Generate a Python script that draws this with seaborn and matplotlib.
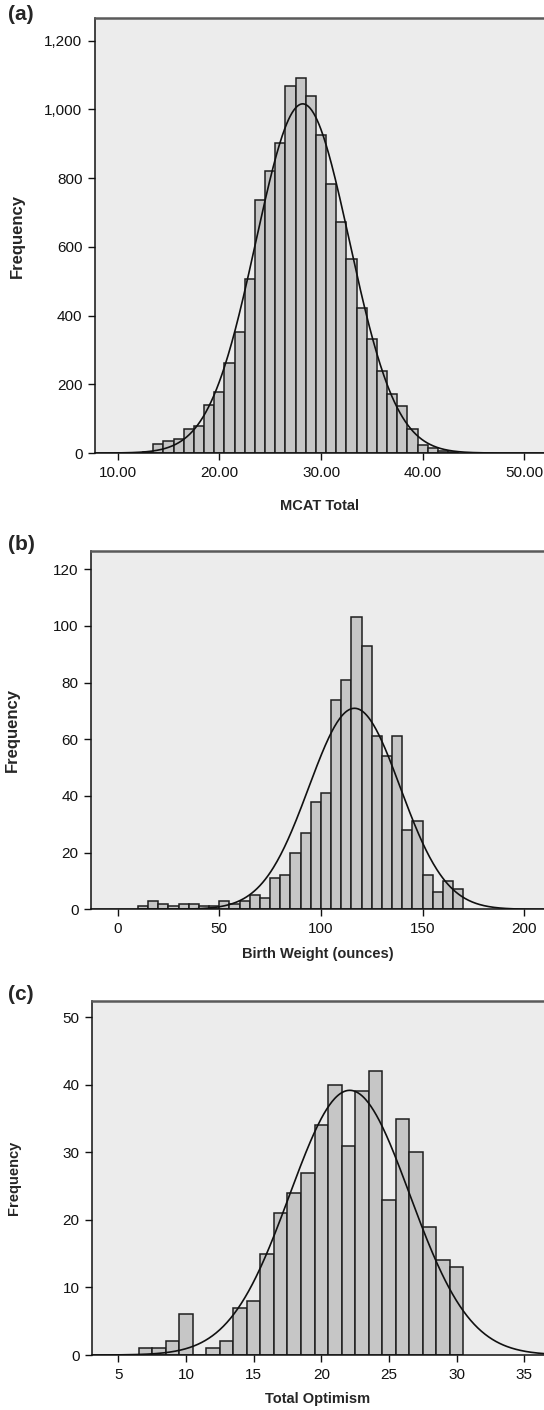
import numpy as np
import matplotlib
matplotlib.use("Agg")
import matplotlib.pyplot as plt
import seaborn as sns
from matplotlib.ticker import FuncFormatter

# (a) MCAT Total: bins of width 1, centred on whole scores
mcat_scores = [12, 13, 14, 15, 16, 17, 18, 19, 20, 21, 22, 23, 24, 25, 26, 27,
               28, 29, 30, 31, 32, 33, 34, 35, 36, 37, 38, 39, 40, 41, 42, 43]
mcat_counts = [1, 4, 26, 36, 40, 71, 78, 139, 177, 261, 351, 505, 736, 822, 903, 1069,
               1092, 1039, 925, 784, 673, 564, 423, 333, 239, 172, 137, 70, 22, 15, 7, 2]
mcat_mean, mcat_sd = 28.2, 4.6

# (b) Birth weight in ounces: bins of width 5 from 10 to 170
bw_centers = [12.5, 17.5, 22.5, 27.5, 32.5, 37.5, 42.5, 47.5, 52.5, 57.5, 62.5,
              67.5, 72.5, 77.5, 82.5, 87.5, 92.5, 97.5, 102.5, 107.5, 112.5, 117.5,
              122.5, 127.5, 132.5, 137.5, 142.5, 147.5, 152.5, 157.5, 162.5, 167.5]
bw_counts = [1, 3, 2, 1, 2, 2, 1, 1, 3, 2, 3, 5, 4, 11, 12, 20, 27, 38, 41, 74, 81,
             103, 93, 61, 54, 61, 28, 31, 12, 6, 10, 7]
bw_mean, bw_sd = 116.5, 22.5

# (c) Total Optimism: bins of width 1
opt_scores = [7, 8, 9, 10, 11, 12, 13, 14, 15, 16, 17, 18, 19, 20, 21, 22, 23, 24,
              25, 26, 27, 28, 29, 30]
opt_counts = [1, 1, 2, 6, 0, 1, 2, 7, 8, 15, 21, 24, 27, 34, 40, 31, 39, 42, 23, 35,
              30, 19, 14, 13]
opt_mean, opt_sd = 22.1, 4.43

BG = "#ECECEC"
FILL = "#C6C6C6"
EDGE = "#1E1E1E"

sns.set_style("ticks")
plt.rcParams["font.family"] = ["Liberation Sans", "DejaVu Sans"]

fig = plt.figure(figsize=(5.44, 14.10), dpi=100)


def draw_panel(rect, centers, counts, width, mean, sd, xlim, ylim, xticks, yticks,
               xfmt, yfmt, xlabel, letter, letter_y, ylabel_size=12):
    ax = fig.add_axes(rect)
    ax.set_facecolor(BG)
    sns.histplot(x=centers, weights=counts, binwidth=width,
                 binrange=(centers[0] - width / 2, centers[-1] + width / 2),
                 color=FILL, edgecolor=EDGE, linewidth=1.1, alpha=1, ax=ax)
    n = sum(counts)
    xs = np.linspace(xlim[0], xlim[1], 500)
    ys = n * width * np.exp(-0.5 * ((xs - mean) / sd) ** 2) / (sd * np.sqrt(2 * np.pi))
    ax.plot(xs, ys, color="#111111", lw=1.2)

    ax.set_xlim(*xlim)
    ax.set_ylim(*ylim)
    ax.set_xticks(xticks)
    ax.set_yticks(yticks)
    ax.xaxis.set_major_formatter(FuncFormatter(xfmt))
    ax.yaxis.set_major_formatter(FuncFormatter(yfmt))
    ax.tick_params(axis="both", direction="out", length=5, width=1, colors="#111111",
                   labelsize=11, pad=4)

    for side in ["left", "bottom"]:
        ax.spines[side].set_color("#111111")
        ax.spines[side].set_linewidth(1.1)
    ax.spines["top"].set_color("#5A5A5A")
    ax.spines["top"].set_linewidth(1.8)
    ax.spines["right"].set_visible(False)

    ax.set_xlabel(xlabel, fontsize=10.5, fontweight="bold")
    ax.xaxis.set_label_coords(0.5, -0.105)
    ax.set_ylabel("")
    ax.text(-0.173, 0.5, "Frequency", transform=ax.transAxes, rotation=90,
            ha="center", va="center", fontsize=ylabel_size, fontweight="bold")
    fig.text(21 / 544, 1 - letter_y / 1410, letter, ha="center", va="center",
             fontsize=15, fontweight="bold")
    return ax


draw_panel([0.1746, 0.6787, 0.8254, 0.3083], mcat_scores, mcat_counts, 1,
           mcat_mean, mcat_sd, (7.77, 51.93), (0, 1265),
           [10, 20, 30, 40, 50], list(range(0, 1201, 200)),
           lambda v, p: f"{v:.2f}", lambda v, p: f"{v:,.0f}",
           "MCAT Total", "(a)", 15)

draw_panel([0.1673, 0.3551, 0.8327, 0.2543], bw_centers, bw_counts, 5,
           bw_mean, bw_sd, (-13.1, 209.7), (0, 126.5),
           [0, 50, 100, 150, 200], list(range(0, 121, 20)),
           lambda v, p: f"{v:.0f}", lambda v, p: f"{v:.0f}",
           "Birth Weight (ounces)", "(b)", 544)

draw_panel([0.1691, 0.0390, 0.8309, 0.2511], opt_scores, opt_counts, 1,
           opt_mean, opt_sd, (3.06, 36.45), (0, 52.4),
           [5, 10, 15, 20, 25, 30, 35], list(range(0, 51, 10)),
           lambda v, p: f"{v:.0f}", lambda v, p: f"{v:.0f}",
           "Total Optimism", "(c)", 995, ylabel_size=10.5)

fig.savefig("out.png", dpi=100, facecolor="white")
